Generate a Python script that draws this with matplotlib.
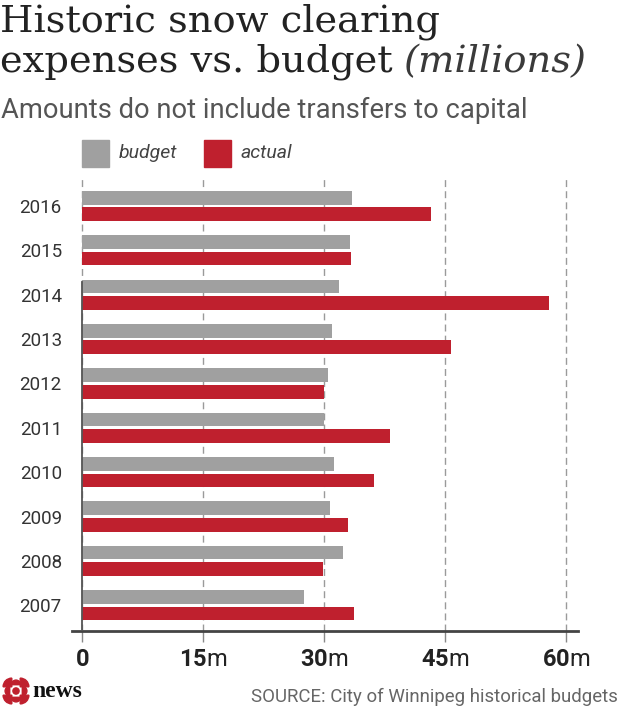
import numpy as np
import matplotlib
matplotlib.use('Agg')
import matplotlib.pyplot as plt
from matplotlib.patches import Rectangle, Circle, Wedge

plt.rcParams['font.family'] = ['Roboto', 'DejaVu Sans']
plt.rcParams['mathtext.fontset'] = 'custom'
plt.rcParams['mathtext.rm'] = 'Roboto'
plt.rcParams['mathtext.bf'] = 'Roboto:bold'

# data (millions of dollars)
years = ['2007', '2008', '2009', '2010', '2011', '2012', '2013', '2014', '2015', '2016']
budget = [27.5, 32.4, 30.8, 31.2, 29.95, 30.5, 31.0, 31.9, 33.2, 33.5]
actual = [33.7, 29.9, 33.0, 36.2, 38.2, 30.0, 45.8, 57.9, 33.4, 43.3]
xticks = [0, 15, 30, 45, 60]
xlabels = ['$\\mathbf{0}$', '$\\mathbf{15}$m', '$\\mathbf{30}$m', '$\\mathbf{45}$m', '$\\mathbf{60}$m']

grey = '#a0a0a0'
red = '#bf202e'
W, H = 620, 710


def fx(px):
    return px / W


def fy(py):
    return (H - py) / H


fig = plt.figure(figsize=(6.2, 7.1), dpi=100)

# titles
fig.text(fx(0), fy(32), 'Historic snow clearing', family='DejaVu Serif',
         fontsize=27.6, color='#222222', va='baseline', ha='left')
t2 = fig.text(fx(0), fy(72), 'expenses vs. budget', family='DejaVu Serif',
              fontsize=27.6, color='#222222', va='baseline', ha='left')
fig.canvas.draw()
bb = t2.get_window_extent()
fig.text(fx(bb.x1 + 11), fy(72), '(millions)', family='DejaVu Serif', style='italic',
         fontsize=27.6, color='#3a3a3a', va='baseline', ha='left')
fig.text(fx(1), fy(118), 'Amounts do not include transfers to capital',
         fontsize=19.7, color='#555555', va='baseline', ha='left')

# legend
fig.add_artist(Rectangle((fx(82), fy(167)), 27 / W, 27 / H, color=grey, transform=fig.transFigure))
fig.text(fx(119), fy(153), 'budget', style='italic', fontsize=14, color='#444444', va='center')
fig.add_artist(Rectangle((fx(204), fy(167)), 27 / W, 27 / H, color=red, transform=fig.transFigure))
fig.text(fx(241), fy(153), 'actual', style='italic', fontsize=14, color='#444444', va='center')

# main axes
ax = fig.add_axes([fx(71.5), fy(631), (578 - 71.5) / W, (631 - 178) / H])
y = np.arange(len(years))
ax.barh(y + 0.187, budget, height=0.31, color=grey, zorder=3)
ax.barh(y - 0.187, actual, height=0.31, color=red, zorder=3)

ax.set_xlim(-1.3, 61.5)
ax.set_ylim(-0.58, 9.63)
ax.set_xticks(xticks)
ax.set_xticklabels(xlabels, fontsize=17, color='#222222')
ax.set_yticks(y)
ax.set_yticklabels(years, fontsize=13.5, color='#333333')
ax.grid(axis='x', linestyle=(0, (5, 3)), color='#9a9a9a', lw=1, zorder=0)
ax.axvline(0, ymax=0.77, color='#555555', lw=1.3, zorder=4)
for s in ['top', 'right', 'left']:
    ax.spines[s].set_visible(False)
ax.spines['bottom'].set_color('#444444')
ax.spines['bottom'].set_linewidth(2)
ax.tick_params(axis='x', length=8, color='#888888', width=1, pad=4)
ax.tick_params(axis='y', length=0, pad=7)

# footer: gem logo + news
lax = fig.add_axes([fx(2), fy(705), 28 / W, 28 / H])
lax.set_xlim(-1, 1)
lax.set_ylim(-1, 1)
lax.set_aspect('equal')
lax.axis('off')
lax.add_patch(Circle((0, 0), 0.22, color=red))
for ang in [0, 90, 180, 270]:
    c = (0.45 * np.cos(np.radians(ang)), 0.45 * np.sin(np.radians(ang)))
    lax.add_patch(Wedge(c, 0.33, ang - 90, ang + 90, color=red))
for ang in [45, 135, 225, 315]:
    c = (0.3 * np.sign(np.cos(np.radians(ang))), 0.3 * np.sign(np.sin(np.radians(ang))))
    lax.add_patch(Wedge(c, 0.62, ang - 45, ang + 45, color=red))
fig.text(fx(32), fy(697), 'news', family='Liberation Serif', weight='bold',
         fontsize=17, color='#111111', va='baseline')

fig.text(fx(618), fy(702), 'SOURCE: City of Winnipeg historical budgets',
         fontsize=13.4, color='#666666', ha='right', va='baseline')

fig.savefig('out.png', dpi=100)
